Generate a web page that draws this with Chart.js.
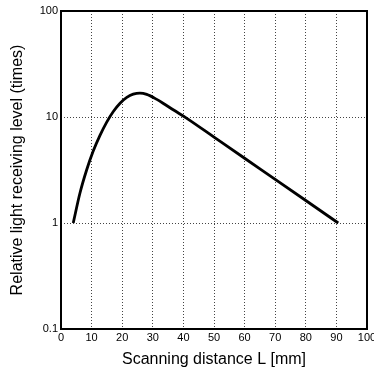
<!DOCTYPE html>
<html>
<head>
<meta charset="utf-8">
<script src="https://cdn.jsdelivr.net/npm/chart.js@4/dist/chart.umd.min.js"></script>
<style>
html,body{margin:0;padding:0;background:#fff;}
#wrap{width:374px;height:369px;}
</style>
</head>
<body>
<div id="wrap"><canvas id="c" width="374" height="369"></canvas></div>
<script>
// Data
const distances = [4, 6.2, 8.4, 10.5, 12.7, 14.9, 17.1, 19.3, 21.5, 23.6, 25.8, 28, 31.3, 34, 36.8, 41, 50, 60, 70, 80, 90.6];
const levels    = [1, 1.92, 3.18, 4.75, 6.68, 8.91, 11.27, 13.49, 15.31, 16.41, 16.83, 16.37, 14.66, 13.12, 11.64, 9.77, 6.46, 4.08, 2.58, 1.63, 1.0];
const yTickValues = [0.1, 1, 10, 100];
const yTickLabels = ["0.1", "1", "10", "100"];
const xTitle = "Scanning distance L [mm]";
const yTitle = "Relative light receiving level (times)";

const tickFont = {family: "'Liberation Sans Narrow', 'Liberation Sans', Arial, sans-serif", size: 11};
const titleFont = {family: "'Liberation Sans', Arial, sans-serif", size: 16};

const framePlugin = {
  id: 'frame',
  afterDraw(chart) {
    const a = chart.chartArea, ctx = chart.ctx;
    ctx.save();
    ctx.strokeStyle = '#000';
    ctx.lineWidth = 2;
    ctx.strokeRect(a.left, a.top, a.right - a.left, a.bottom - a.top);
    ctx.restore();
  }
};

new Chart(document.getElementById('c'), {
  type: 'line',
  data: {
    datasets: [{
      data: distances.map((x, i) => ({x: x, y: levels[i]})),
      borderColor: '#000',
      borderWidth: 2.8,
      pointRadius: 0,
      fill: false,
      cubicInterpolationMode: 'monotone'
    }]
  },
  options: {
    responsive: false,
    animation: false,
    layout: {padding: {top: 11, right: 7, left: 0, bottom: 0}},
    plugins: {legend: {display: false}, tooltip: {enabled: false}},
    scales: {
      x: {
        type: 'linear', min: 0, max: 100,
        ticks: {stepSize: 10, color: '#000', font: tickFont, padding: 2, maxRotation: 0},
        grid: {color: '#444', lineWidth: 1, tickLength: 0, drawTicks: false},
        border: {display: false, dash: [1, 2]},
        title: {display: true, text: xTitle, color: '#000', font: titleFont, padding: {top: 0, bottom: 0}},
        afterFit(s) { s.height = 40; s.paddingLeft = 0; s.paddingRight = 0; }
      },
      y: {
        type: 'logarithmic', min: 0.1, max: 100,
        afterBuildTicks(s) { s.ticks = yTickValues.map(v => ({value: v})); },
        ticks: {
          color: '#000', font: tickFont, padding: 3,
          callback: (v) => yTickLabels[yTickValues.indexOf(v)] ?? ''
        },
        grid: {color: '#444', lineWidth: 1, tickLength: 0, drawTicks: false},
        border: {display: false, dash: [1, 2]},
        title: {display: true, text: yTitle, color: '#000', font: titleFont, padding: {top: 8, bottom: 0}},
        afterFit(s) { s.width = 61; s.paddingTop = 0; s.paddingBottom = 0; }
      }
    }
  },
  plugins: [framePlugin]
});
</script>
</body>
</html>
